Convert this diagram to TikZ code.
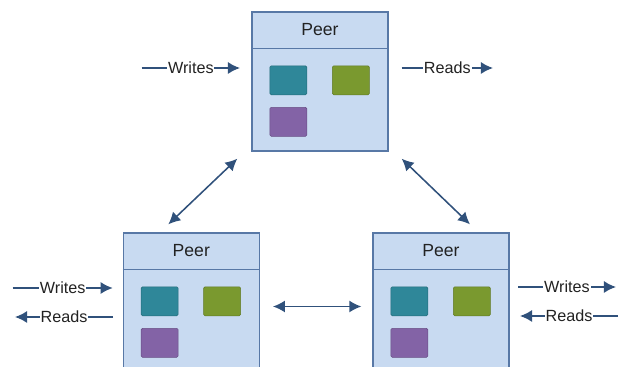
\documentclass[tikz,border=0pt]{standalone}
\usepackage{fontspec}
\setmainfont{Liberation Sans}
\usetikzlibrary{arrows.meta,calc}

\definecolor{boxfill}{HTML}{C8DAF1}
\definecolor{boxline}{HTML}{5878A6}
\definecolor{arrowblue}{HTML}{22497A}
\definecolor{teal}{HTML}{2F8799}
\definecolor{olive}{HTML}{7A992F}
\definecolor{violet}{HTML}{8363A6}
\definecolor{txt}{HTML}{222222}

\begin{document}
\begin{tikzpicture}[
  x=0.025cm, y=-0.025cm,
  peer/.style={draw=boxline, fill=boxfill, line width=0.9pt, minimum width=3.4cm, minimum height=3.475cm, inner sep=0pt},
  blk/.style={draw=#1!80!black, fill=#1, line width=0.4pt, rounded corners=1pt, minimum width=0.925cm, minimum height=0.725cm, inner sep=0pt},
  lbl/.style={font=\fontsize{11.5}{13}\selectfont, text=txt, fill=white, inner sep=0.6pt},
  io/.style={draw=arrowblue!85!gray, line width=1.1pt, -{Latex[length=3mm,width=3mm]}},
  link/.style={draw=arrowblue!85!gray, line width=1.1pt, {Latex[length=3mm,width=3mm]}-{Latex[length=3mm,width=3mm]}}
]
  \useasboundingbox (0,0) rectangle (621,367);
  \clip (0,0) rectangle (621,367);

  % peers
  \foreach \name/\px/\py in {ptop/320/81.5, pleft/191.3/302.5, pright/441/302.5} {
    \node[peer] (\name) at (\px,\py) {};
    \draw[boxline, line width=0.9pt] ($(\name.north west)+(0,37)$) -- ($(\name.north east)+(0,37)$);
    \node[font=\fontsize{12.5}{14}\selectfont, text=txt] (\name-t) at ($(\name.north)+(0,18.5)$) {Peer};
    \node[blk=teal]   (\name-a) at ($(\name.north west)+(37,69)$)   {};
    \node[blk=olive]  (\name-b) at ($(\name.north west)+(99.5,69)$) {};
    \node[blk=violet] (\name-c) at ($(\name.north west)+(37,110.5)$) {};
  }

  % inputs and outputs
  \coordinate (w1s) at (141.7,68);  \coordinate (w1e) at (240,68);
  \coordinate (r1s) at (401.7,68);  \coordinate (r1e) at (493,68);
  \coordinate (w2s) at (12.7,288);  \coordinate (w2e) at (112.7,288);
  \coordinate (r2s) at (113,317);   \coordinate (r2e) at (15,317);
  \coordinate (w3s) at (518,287);   \coordinate (w3e) at (616,287);
  \coordinate (r3s) at (618,316);   \coordinate (r3e) at (520,316);

  \draw[io] (w1s) -- node[lbl] {Writes} (w1e);
  \draw[io] (r1s) -- node[lbl] {Reads} (r1e);
  \draw[io] (w2s) -- node[lbl] {Writes} (w2e);
  \draw[io] (r2s) -- node[lbl] {Reads} (r2e);
  \draw[io] (w3s) -- node[lbl] {Writes} (w3e);
  \draw[io] (r3s) -- node[lbl] {Reads} (r3e);

  % links between peers
  \draw[link] ($(ptop.south west)+(-14,7)$) -- ($(pleft.north)+(-23,-8)$);
  \draw[link] ($(ptop.south east)+(13,7)$) -- ($(pright.north)+(29,-8)$);
  \draw[link] ($(pleft.east)+(13,4)$) -- ($(pright.west)+(-11,4)$);
\end{tikzpicture}
\end{document}
